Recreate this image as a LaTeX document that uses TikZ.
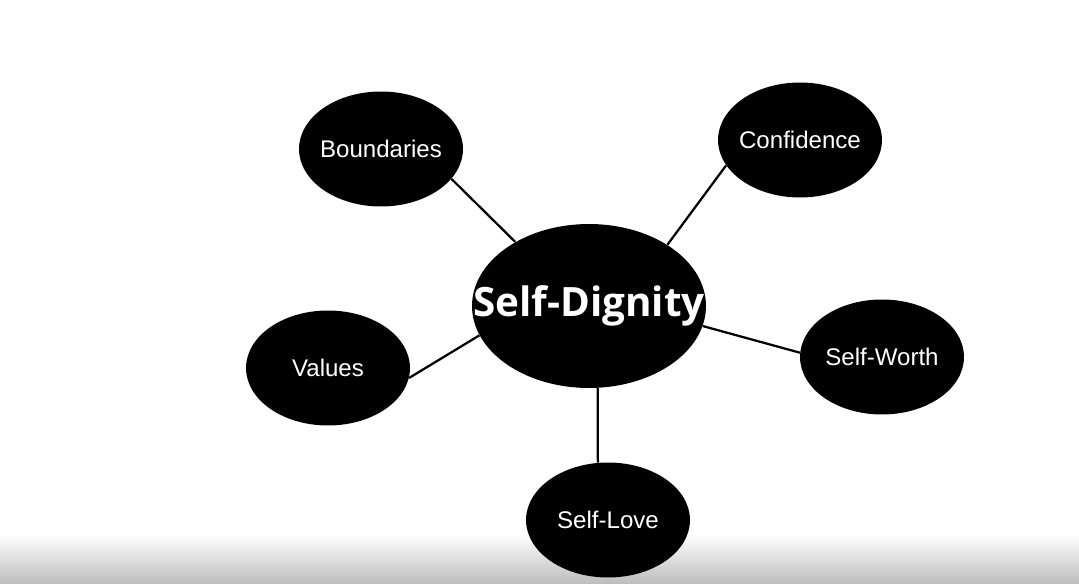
\documentclass[tikz,border=0pt]{standalone}
\usepackage{fontspec}
\setmainfont{Liberation Sans}
\newfontfamily\headfont{Open Sans}
\usetikzlibrary{shapes.geometric}

\begin{document}
\begin{tikzpicture}[x=0.02cm, y=-0.02cm,
		bubble/.style={ellipse, fill=black, text=white, inner sep=0pt, minimum width=3.28cm, minimum height=2.3cm, font=\fontsize{13.7}{16}\selectfont},
		hub/.style={ellipse, fill=black, text=white, inner sep=0pt, minimum width=4.68cm, minimum height=3.28cm, font=\headfont\bfseries\fontsize{23}{28}\selectfont},
		spoke/.style={line width=0.45mm, color=black}]
			%%%%% START %%%%%
			
			\useasboundingbox (0, 0) rectangle (1079, 584);
			\shade[top color=white, bottom color=black!26] (0, 534) rectangle (1079, 584);
			
			\node[hub] (dignity) at (589, 306) {\makebox[0pt]{Self-Dignity}};
			
			\node[bubble] (bound) at (381, 149) {\makebox[0pt]{Boundaries}};
			\node[bubble] (conf) at (800, 140) {\makebox[0pt]{Confidence}};
			\node[bubble] (values) at (328, 368) {\makebox[0pt]{Values}};
			\node[bubble] (worth) at (882, 357) {\makebox[0pt]{Self-Worth}};
			\node[bubble] (love) at (608, 520) {\makebox[0pt]{Self-Love}};
			
			\draw[spoke] (dignity.139) -- (bound.-23);
			\draw[spoke] (dignity.38) -- (conf.-161);
			\draw[spoke] (dignity.195) -- (values.-7);
			\draw[spoke] (dignity.-10) -- (worth.177);
			\draw[spoke] (dignity.-84) -- (love.100);
			
			%%%%% END %%%%%
		\end{tikzpicture}
\end{document}
